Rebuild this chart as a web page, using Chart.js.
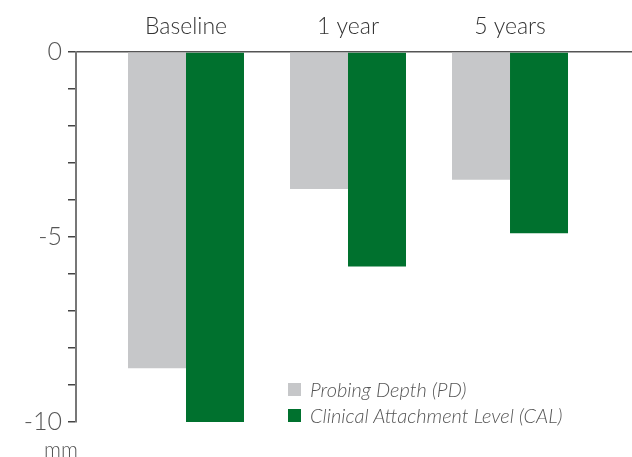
<!DOCTYPE html>
<html>
<head>
<meta charset="utf-8">
<script src="https://cdn.jsdelivr.net/npm/chart.js@4"></script>
<style>
  html, body { margin: 0; padding: 0; background: #ffffff; }
  #wrap { position: relative; width: 632px; height: 457px; }
  canvas { display: block; }
  #legend { position: absolute; left: 288px; top: 376px; font-family: "Lato", sans-serif; font-style: italic; font-weight: 300; font-size: 20px; color: #555555; }
  .item { display: flex; align-items: center; height: 26px; }
  .sw { width: 13px; height: 13px; margin-right: 9px; }
</style>
</head>
<body>
<div id="wrap">
  <canvas id="c" width="632" height="457"></canvas>
  <div id="legend"></div>
</div>
<script>
const categories = ['Baseline', '1 year', '5 years'];
const probingDepth = [-8.55, -3.7, -3.45];
const clinicalAttachment = [-10.0, -5.8, -4.9];
const seriesNames = ['Probing Depth (PD)', 'Clinical Attachment Level (CAL)'];
const seriesColors = ['#c6c7c9', '#00712e'];
const yLabelTicks = [0, -5, -10];
const unitLabel = 'mm';

const toPoints = arr => arr.map((v, i) => ({ x: i, y: v }));

const legendEl = document.getElementById('legend');
seriesNames.forEach((n, i) => {
  const d = document.createElement('div');
  d.className = 'item';
  d.innerHTML = '<span class="sw" style="background:' + seriesColors[i] + '"></span><span>' + n + '</span>';
  legendEl.appendChild(d);
});

const unitPlugin = {
  id: 'unitLabel',
  afterDraw(chart) {
    const y = chart.scales.y;
    const ctx = chart.ctx;
    ctx.save();
    ctx.font = '300 21px Lato, sans-serif';
    ctx.fillStyle = '#555555';
    ctx.textAlign = 'center';
    ctx.textBaseline = 'top';
    ctx.fillText(unitLabel, y.right - 15, y.getPixelForValue(-10) + 18);
    ctx.restore();
  }
};

new Chart(document.getElementById('c'), {
  type: 'bar',
  data: {
    datasets: [
      { label: seriesNames[0], data: toPoints(probingDepth), backgroundColor: seriesColors[0], borderWidth: 0 },
      { label: seriesNames[1], data: toPoints(clinicalAttachment), backgroundColor: seriesColors[1], borderWidth: 0 }
    ]
  },
  options: {
    responsive: false,
    animation: false,
    devicePixelRatio: 1,
    categoryPercentage: 0.716,
    barPercentage: 1.0,
    layout: { padding: { top: 0, right: 0, bottom: 35, left: 0 } },
    plugins: { legend: { display: false }, tooltip: { enabled: false } },
    scales: {
      x: {
        type: 'linear',
        position: 'top',
        offset: false,
        min: -0.679,
        max: 2.753,
        afterBuildTicks: s => { s.ticks = categories.map((c, i) => ({ value: i })); },
        afterFit: s => { s.height = 52; },
        grid: { display: true, drawOnChartArea: false, drawTicks: false },
        border: { display: true, color: '#555555', width: 1.5 },
        ticks: {
          padding: 12,
          color: '#333333',
          font: { family: 'Lato', size: 23, weight: '300' },
          callback: v => categories[v] !== undefined ? categories[v] : ''
        }
      },
      y: {
        min: -10,
        max: 0,
        afterFit: s => { s.width = 76; },
        grid: { drawOnChartArea: false, drawTicks: true, tickLength: 8, color: '#444444', lineWidth: 1.5 },
        border: { display: true, color: '#777777', width: 2 },
        ticks: {
          stepSize: 1,
          padding: 6,
          color: '#555555',
          font: { family: 'Lato', size: 25, weight: '300' },
          callback: v => yLabelTicks.includes(v) ? String(v) : ''
        }
      }
    }
  },
  plugins: [unitPlugin]
});
</script>
</body>
</html>
